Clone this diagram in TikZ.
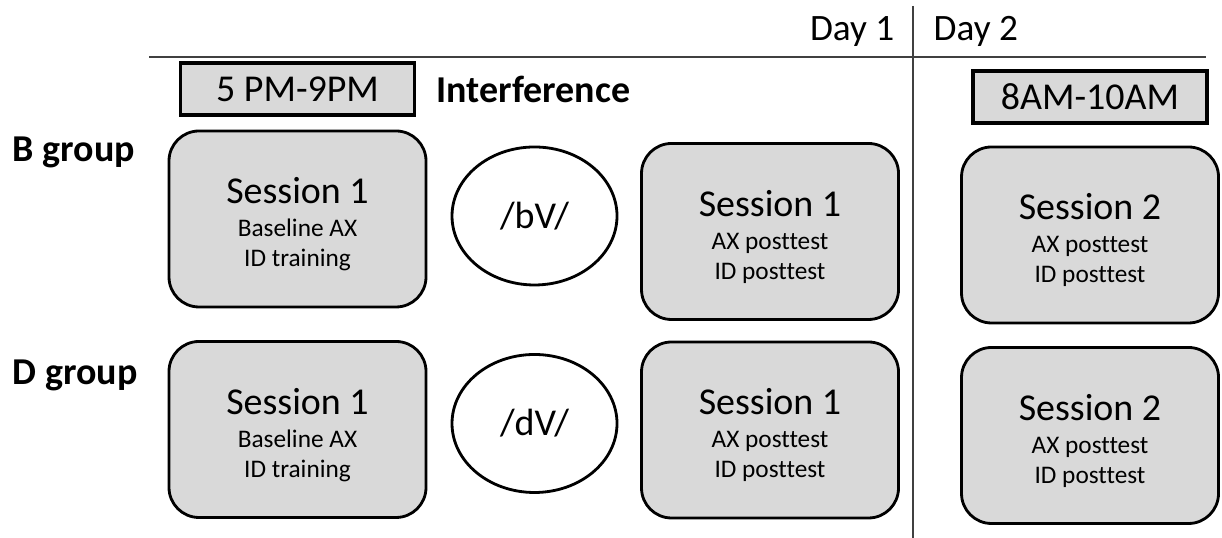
\documentclass[tikz,border=0pt]{standalone}
\usepackage{fontspec}
\setmainfont{Carlito}[Ligatures=NoCommon]
\usetikzlibrary{positioning,shapes.geometric}
\definecolor{boxgray}{RGB}{217,217,217}
\tikzset{
  sess/.style={draw, rounded corners=0.3cm, fill=boxgray, line width=0.8pt, align=center,
               font=\fontsize{7.2}{8.5}\selectfont,
               minimum width=2.57cm, minimum height=1.76cm, inner sep=0pt},
  slot/.style={draw, fill=boxgray, line width=0.9pt, font=\fontsize{10.8}{13}\selectfont,
               minimum width=2.34cm, minimum height=0.52cm, inner sep=0pt},
  cue/.style={ellipse, draw, line width=0.8pt, font=\fontsize{10.8}{13}\selectfont,
              minimum width=1.65cm, minimum height=1.38cm, inner sep=0pt},
  grp/.style={font=\bfseries\fontsize{10.8}{13}\selectfont, inner sep=0pt},
  daylbl/.style={font=\fontsize{10.6}{13}\selectfont, inner sep=0pt},
  rule/.style={black!75, line width=0.6pt},
}
\newcommand{\sesstitle}[1]{{\fontsize{10.8}{13}\selectfont\rule{0pt}{10.5pt}#1}\\[0.9pt]}

\begin{document}
\begin{tikzpicture}[node distance=0.2cm]
    \useasboundingbox (0,0) rectangle (12.22,5.38);
    \coordinate (rl) at (1.49,4.81);
    \coordinate (rr) at (12.06,4.81);
    \coordinate (vt) at (9.13,5.32);
    \coordinate (vb) at (9.13,0);
    \draw[rule] (rl) -- (rr);
    \draw[rule] (vt) -- (vb);
    \node[daylbl, anchor=base east] (day1) at (8.95,4.97) {Day 1};
    \node[daylbl, anchor=base west] (day2) at (9.33,4.97) {Day 2};

    \node[sess] (bpre) at (2.975,3.19) {\sesstitle{Session 1}Baseline AX\\ID training};
    \node[sess] (dpre) at (2.975,1.085) {\sesstitle{Session 1}Baseline AX\\ID training};
    \node[cue] (bcue) at (5.345,3.22) {/bV/};
    \node[cue] (dcue) at (5.345,1.145) {/dV/};
    \node[sess] (bpost) at (7.70,3.065) {\sesstitle{Session 1}AX posttest\\ID posttest};
    \node[sess] (dpost) at (7.70,1.08) {\sesstitle{Session 1}AX posttest\\ID posttest};
    \node[sess] (bnext) at (10.90,3.03) {\sesstitle{Session 2}AX posttest\\ID posttest};
    \node[sess] (dnext) at (10.90,1.025) {\sesstitle{Session 2}AX posttest\\ID posttest};

    \node[slot, above=0.13cm of bpre] (pmslot) {5 PM-9PM};
    \node[grp, right=of pmslot] (interf) {Interference};
    \node[slot, above=0.21cm of bnext] (amslot) {8AM-10AM};
    \node[grp, anchor=base west] (bgrp) at (0.12,3.76) {B group};
    \node[grp, anchor=base west] (dgrp) at (0.12,1.53) {D group};
  \end{tikzpicture}
\end{document}
